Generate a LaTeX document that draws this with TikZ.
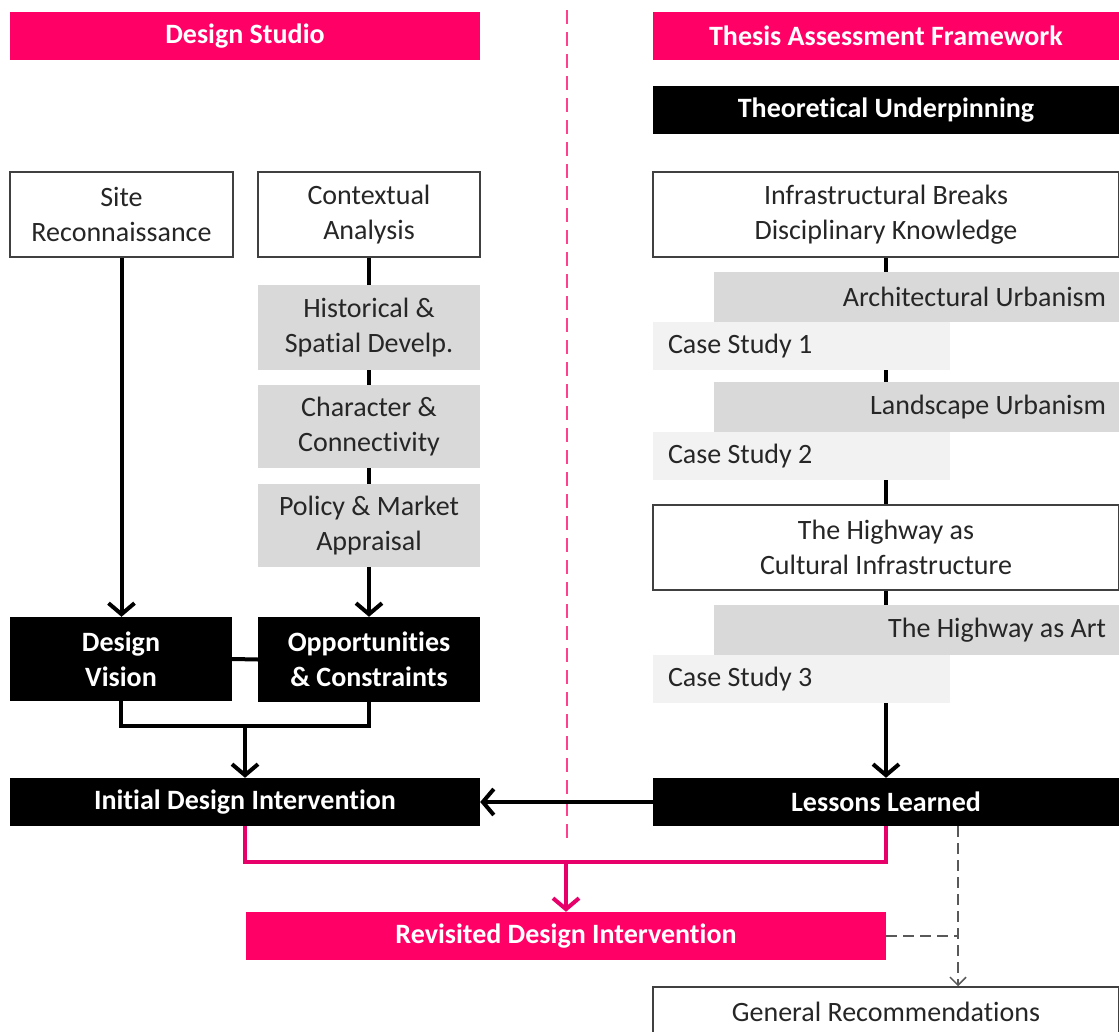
\documentclass[tikz,border=0pt]{standalone}
\usepackage{fontspec}
\setmainfont{Carlito}[RawFeature={-liga;-clig;-calt;-dlig}]
\usetikzlibrary{arrows.meta,backgrounds,calc}
\definecolor{pk}{HTML}{FF0066}
\definecolor{pkline}{HTML}{E8006A}
\definecolor{gb}{HTML}{D9D9D9}
\definecolor{lgb}{HTML}{F2F2F2}
\definecolor{txt}{HTML}{262626}
\definecolor{bd}{HTML}{404040}
\definecolor{dg}{HTML}{595959}
\begin{document}
\begin{tikzpicture}[x=1pt,y=-1pt,
 base/.style={rectangle, inner sep=0pt, font=\fontsize{28}{35}\selectfont, align=center},
 wbox/.style={base, draw=bd, line width=1.5pt, fill=white, text=txt},
 bbox/.style={base, fill=black, text=white, font=\fontsize{28}{35}\selectfont\bfseries},
 pbox/.style={base, fill=pk, text=white, font=\fontsize{28}{35}\selectfont\bfseries},
 gbox/.style={base, fill=gb, text=txt, minimum width=405pt, minimum height=50pt},
 lbox/.style={base, fill=lgb, text=txt, minimum width=297pt, minimum height=48pt},
 gsbox/.style={base, fill=gb, text=txt},
 ln/.style={line width=4pt, black},
 arr/.style={ln, -{Straight Barb[length=11pt,width=26pt]}},
 pln/.style={line width=4pt, pkline},
 parr/.style={pln, -{Straight Barb[length=11pt,width=26pt]}},
 dsh/.style={line width=1.5pt, dg, dash pattern=on 11pt off 6pt},
 divd/.style={line width=1.5pt, pk!75, dash pattern=on 14pt off 8pt}
]
\useasboundingbox (0,0) rectangle (1119,1032);
\clip (0,0) rectangle (1119,1032);

% headers
\node[pbox, minimum width=470pt, minimum height=48pt] (ds) at (245,36) {Design Studio};
\node[pbox, minimum width=466pt, minimum height=48pt] (taf) at (886,36) {Thesis Assessment Framework};
\node[bbox, minimum width=466pt, minimum height=48pt] (tu) at (886,110) {Theoretical Underpinning};

% left column
\node[wbox, minimum width=223pt, minimum height=85pt] (site) at (121.5,214.5) {Site\\Reconnaissance};
\node[wbox, minimum width=222pt, minimum height=85pt] (ctx) at (369,214.5) {Contextual\\Analysis};
\node[gsbox, minimum width=222pt, minimum height=85pt] (hist) at (369,327.5) {Historical \&\\Spatial Develp.};
\node[gsbox, minimum width=222pt, minimum height=83pt] (char) at (369,426.5) {Character \&\\Connectivity};
\node[gsbox, minimum width=222pt, minimum height=83pt] (pol) at (369,525.5) {Policy \& Market\\Appraisal};
\node[bbox, minimum width=222pt, minimum height=84pt] (dv) at (121,659) {Design\\Vision};
\node[bbox, minimum width=222pt, minimum height=85pt] (opp) at (369,659.5) {Opportunities\\\& Constraints};
\node[bbox, minimum width=470pt, minimum height=48pt] (idi) at (245,802) {Initial Design Intervention};

% right column
\node[wbox, minimum width=466pt, minimum height=85pt] (infra) at (886,214.5) {Infrastructural Breaks\\Disciplinary Knowledge};
\node[gbox] (arch) at (916.5,297) {\makebox[379pt][r]{Architectural Urbanism}};
\node[lbox] (cs1) at (801.5,346) {\makebox[267pt][l]{Case Study 1}};
\node[gbox] (land) at (916.5,407) {\makebox[379pt][r]{Landscape Urbanism}};
\node[lbox] (cs2) at (801.5,456) {\makebox[267pt][l]{Case Study 2}};
\node[wbox, minimum width=466pt, minimum height=85pt] (hw) at (886,547.5) {The Highway as\\Cultural Infrastructure};
\node[gbox] (art) at (916.5,630) {\makebox[379pt][r]{The Highway as Art}};
\node[lbox] (cs3) at (801.5,679) {\makebox[267pt][l]{Case Study 3}};
\node[bbox, minimum width=466pt, minimum height=48pt] (ll) at (886,802) {Lessons Learned};

% bottom
\node[pbox, minimum width=640pt, minimum height=48pt] (rdi) at (566,936) {Revisited Design Intervention};
\node[wbox, minimum width=466pt, minimum height=50pt] (gr) at (886,1012) {General Recommendations};

\coordinate (mj) at (245,726);
\coordinate (pj) at (566,862);
\coordinate (dx) at ([xshift=72pt]ll.south);
\coordinate (dvtop) at (567,10);
\coordinate (dvbot) at (567,840);

\begin{scope}[on background layer]
\draw[divd] (dvtop) -- (dvbot);
\draw[arr] (site.south) -- (site.south |- dv.north);
\draw[arr] (ctx.south) -- (opp.north);
\draw[ln] (dv.east) -- (opp.west);
\draw[ln] (dv.south) |- (mj) -| (opp.south);
\draw[arr] (mj) -- (idi.north);
\draw[arr] (infra.south) -- (ll.north);
\draw[arr] (ll.west) -- (idi.east);
\draw[pln] (idi.south) |- (pj) -| (ll.south);
\draw[parr] (pj) -- (rdi.north);
\draw[dsh, -{Straight Barb[length=8pt,width=16pt]}] (dx) -- (dx |- gr.north);
\draw[dsh] (rdi.east) -- (rdi.east -| dx);
\end{scope}
\end{tikzpicture}
\end{document}
